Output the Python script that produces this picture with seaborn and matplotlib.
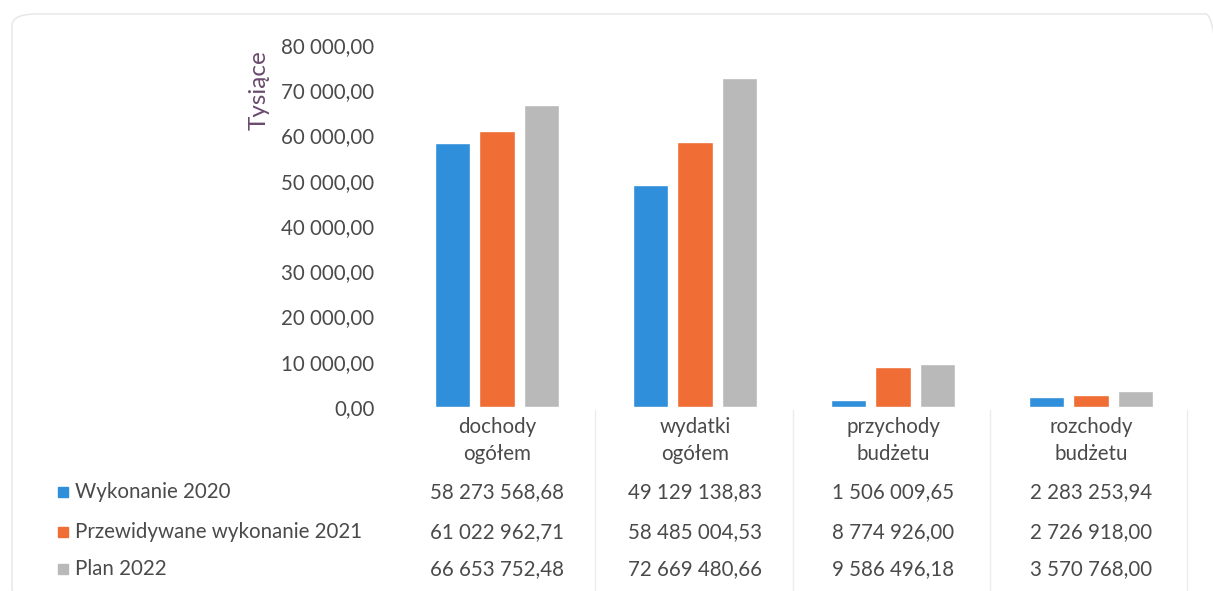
import matplotlib
matplotlib.use("Agg")
import matplotlib.pyplot as plt
import matplotlib.transforms as mtransforms
from matplotlib.patches import FancyBboxPatch
import seaborn as sns
import pandas as pd

categories = ["dochody\nogółem", "wydatki\nogółem", "przychody\nbudżetu", "rozchody\nbudżetu"]
series = ["Wykonanie 2020", "Przewidywane wykonanie 2021", "Plan 2022"]
wykonanie_2020 = [58273568.68, 49129138.83, 1506009.65, 2283253.94]
przewidywane_2021 = [61022962.71, 58485004.53, 8774926.00, 2726918.00]
plan_2022 = [66653752.48, 72669480.66, 9586496.18, 3570768.00]
yticks = [0, 10000, 20000, 30000, 40000, 50000, 60000, 70000, 80000]
colors = ["#2f8fda", "#f06d36", "#b9b9b9"]

values = [wykonanie_2020, przewidywane_2021, plan_2022]
rows = []
for s, vals in zip(series, values):
    for c, v in zip(categories, vals):
        rows.append({"cat": c, "series": s, "val": v / 1000.0})
df = pd.DataFrame(rows)

sns.set_theme(style="white")
plt.rcParams["font.family"] = ["Lato", "DejaVu Sans"]

W, H = 1213, 591
fig = plt.figure(figsize=(W / 100, H / 100), dpi=100)
fig.patch.set_facecolor("white")

def fx(px):
    return px / W

def fy(py):
    return 1 - py / H

FS = 14.8
TXT = "#4a4a4a"

ax = fig.add_axes([fx(398), fy(407), fx(1190) - fx(398), fy(45) - fy(407)])
sns.barplot(data=df, x="cat", y="val", hue="series", palette=colors,
            width=0.67, gap=0.2, saturation=1, ax=ax, legend=False)

ax.set_ylim(0, 80000)
ax.set_xlim(-0.5, 3.5)
ax.set_yticks(yticks)
ax.set_yticklabels([f"{t:,.2f}".replace(",", " ").replace(".", ",") for t in yticks],
                   fontsize=FS, color=TXT)
ax.tick_params(axis="y", length=0, pad=17)
ax.tick_params(axis="x", length=0, pad=7)
ax.set_xticks(range(len(categories)))
ax.set_xticklabels(categories, fontsize=FS, color=TXT, linespacing=1.45)
ax.set_xlabel("")
ax.set_ylabel("")
for sp in ax.spines.values():
    sp.set_visible(False)
ax.grid(False)

fig.text(fx(259), fy(90), "Tysiące", rotation=90, ha="center", va="center",
         fontsize=17.5, color="#6a4a6e")

# data table
trans = mtransforms.blended_transform_factory(ax.transData, fig.transFigure)
row_y = [492, 532, 569]
for i, (s, vals) in enumerate(zip(series, values)):
    y = fy(row_y[i])
    fig.patches.append(plt.Rectangle((fx(58), y - 0.009), fx(10), 0.018,
                                     transform=fig.transFigure, color=colors[i]))
    fig.text(fx(75), y, s, ha="left", va="center", fontsize=FS, color=TXT)
    for j, v in enumerate(vals):
        txt = f"{v:,.2f}".replace(",", " ").replace(".", ",")
        ax.text(j, y, txt, transform=trans, ha="center", va="center",
                fontsize=FS, color=TXT)

# faint table separators
for xp in [595, 793, 990, 1187]:
    fig.add_artist(plt.Line2D([fx(xp), fx(xp)], [fy(410), fy(591)],
                              transform=fig.transFigure, color="#ececec", lw=1))

# faint chart border
border = FancyBboxPatch((fx(12), fy(600)), fx(1230) - fx(12), fy(14) - fy(600),
                        boxstyle="round,pad=0,rounding_size=0.02",
                        transform=fig.transFigure, fill=False,
                        edgecolor="#e6e6e6", lw=1)
fig.patches.append(border)

fig.savefig("out.png", dpi=100)
